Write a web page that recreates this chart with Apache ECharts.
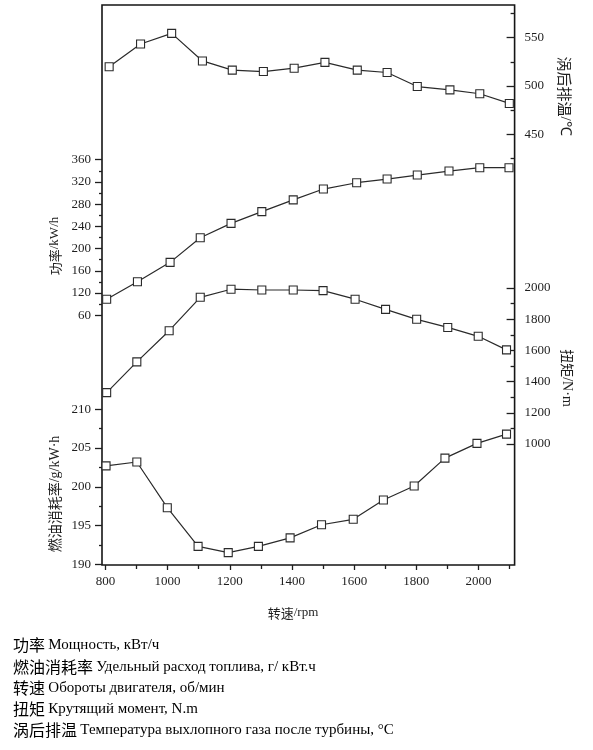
<!DOCTYPE html>
<html>
<head>
<meta charset="utf-8">
<script src="https://cdn.jsdelivr.net/npm/echarts@6/dist/echarts.min.js"></script>
<style>html,body{margin:0;padding:0;background:#fff;}#c{width:593px;height:750px;}</style>
</head>
<body>
<div id="c"></div>
<script>
// ---- data ----
const rpmTemp   = [812, 913, 1013, 1112, 1208, 1308, 1407, 1506, 1610, 1706, 1803, 1908, 2004, 2099];
const temp      = [520, 543.5, 554.5, 526, 516.5, 515, 518.5, 524.5, 516.5, 514, 499.5, 496, 492, 482];
const rpmPower  = [804, 903, 1008, 1105, 1204, 1303, 1404, 1501, 1608, 1706, 1803, 1905, 2004, 2098];
const power     = [108.7, 140.3, 175.2, 219.5, 245.4, 266.5, 287.7, 307.1, 318.5, 325.1, 332.3, 339.5, 345.5, 345.5];
const rpmTorque = [804, 901, 1005, 1105, 1204, 1303, 1404, 1500, 1603, 1701, 1801, 1901, 1999, 2090];
const torque    = [1329, 1526, 1726, 1940, 1992, 1987, 1987, 1983, 1928, 1863, 1799, 1747, 1690, 1603];
const rpmFuel   = [802, 901, 999, 1098, 1195, 1292, 1394, 1495, 1597, 1694, 1793, 1892, 1995, 2090];
const fuel      = [202.7, 203.2, 197.3, 192.3, 191.5, 192.3, 193.4, 195.1, 195.8, 198.3, 200.1, 203.7, 205.6, 206.8];

// tick labels
const xTicks = [800, 1000, 1200, 1400, 1600, 1800, 2000];
const xMinorTicks = [900, 1100, 1300, 1500, 1700, 1900, 2100];
const powerTicks = [80, 120, 160, 200, 240, 280, 320, 360];
const powerTickText = ['60', '120', '160', '200', '240', '280', '320', '360'];
const powerMinorTicks = [100, 140, 180, 220, 260, 300, 340];
const fuelTicks = [190, 195, 200, 205, 210];
const fuelMinorTicks = [192.5, 197.5, 202.5, 207.5];
const tempTicks = [450, 500, 550];
const tempMinorTicks = [425, 475, 525, 575];
const torqueTicks = [1000, 1200, 1400, 1600, 1800, 2000];
const torqueMinorTicks = [1100, 1300, 1500, 1700, 1900];

const legendLines = [
  ['功率', 'Мощность, кВт/ч'],
  ['燃油消耗率', 'Удельный расход топлива, г/ кВт.ч'],
  ['转速', 'Обороты двигателя, об/мин'],
  ['扭矩', 'Крутящий момент, N.m'],
  ['涡后排温', 'Температура выхлопного газа после турбины, °C']
];

const INK = '#1e1e1e';
const SERIF = 'Liberation Serif';
const CJK = 'Noto Sans CJK SC';

const chart = echarts.init(document.getElementById('c'), null, {renderer: 'canvas'});

function pairs(xs, ys) { return xs.map((x, i) => [x, ys[i]]); }

function yAx(opt) {
  return {
    type: 'value', min: opt.min, max: opt.max, position: opt.position,
    splitLine: {show: false}, axisLine: {show: false, onZero: false},
    axisTick: {show: true, customValues: opt.ticks, inside: !!opt.inside, length: opt.len, lineStyle: {color: INK, width: 1.3}},
    axisLabel: opt.labels ? {
      show: true, customValues: opt.labels, color: INK, fontFamily: SERIF, fontSize: 13, margin: opt.margin,
      formatter: opt.fmt || (v => String(v))
    } : {show: false}
  };
}

const yAxes = [
  yAx({min: -369.4, max: 638.3, position: 'left', ticks: powerTicks, labels: powerTicks, len: 7, margin: 11,
       fmt: v => { const i = powerTicks.indexOf(v); return i >= 0 ? powerTickText[i] : String(v); }}),
  yAx({min: -369.4, max: 638.3, position: 'left', ticks: powerMinorTicks, len: 3}),
  yAx({min: 189.9, max: 262.2, position: 'left', ticks: fuelTicks, labels: fuelTicks, len: 7, margin: 11}),
  yAx({min: 189.9, max: 262.2, position: 'left', ticks: fuelMinorTicks, len: 3}),
  yAx({min: 4.2, max: 583.9, position: 'right', ticks: tempTicks, labels: tempTicks, len: 8, inside: true, margin: 10}),
  yAx({min: 4.2, max: 583.9, position: 'right', ticks: tempMinorTicks, len: 4, inside: true}),
  yAx({min: 224, max: 3814, position: 'right', ticks: torqueTicks, labels: torqueTicks, len: 8, inside: true, margin: 10}),
  yAx({min: 224, max: 3814, position: 'right', ticks: torqueMinorTicks, len: 4, inside: true})
];

function lineSeries(name, yIdx, data) {
  return {
    name, type: 'line', xAxisIndex: 0, yAxisIndex: yIdx, data,
    symbol: 'rect', symbolSize: 8, showSymbol: true,
    lineStyle: {color: '#2a2a2a', width: 1.2},
    itemStyle: {color: '#fff', borderColor: '#2a2a2a', borderWidth: 1.1},
    emphasis: {disabled: true}, animation: false
  };
}

function nameText(x, y, rot, cn, lat, size) {
  return {type: 'text', x, y, rotation: rot, style: {
    text: '{c|' + cn + '}{l|' + lat + '}', align: 'center', verticalAlign: 'middle', fill: INK,
    rich: {c: {fontFamily: CJK, fontSize: size, fill: INK}, l: {fontFamily: SERIF, fontSize: size, fill: INK}}
  }};
}

const graphics = [
  nameText(55, 246, Math.PI / 2, '功率', '/kW/h', 13),
  nameText(55, 494, Math.PI / 2, '燃油消耗率', '/g/kW·h', 14),
  nameText(565, 96, -Math.PI / 2, '涡后排温', '/℃', 15),
  nameText(567, 378, -Math.PI / 2, '扭矩', '/N·m', 14),
  nameText(293, 613, 0, '转速', '/rpm', 13)
];
const lineY = [645, 667, 688, 709, 730];
legendLines.forEach((l, i) => {
  graphics.push({type: 'text', x: 13, y: lineY[i], style: {
    text: '{c|' + l[0] + '} {r|' + l[1] + '}',
    verticalAlign: 'middle', align: 'left', fill: '#000',
    rich: {c: {fontFamily: CJK, fontSize: 16, fill: '#000'}, r: {fontFamily: SERIF, fontSize: 15, fill: '#000'}}
  }});
});

chart.setOption({
  animation: false,
  backgroundColor: '#fff',
  grid: {left: 102, right: 78.4, top: 5, bottom: 185, show: true, borderColor: '#151515', borderWidth: 1.6, backgroundColor: 'transparent', containLabel: false},
  xAxis: [
    {type: 'value', min: 789, max: 2116, position: 'bottom', splitLine: {show: false}, axisLine: {show: false, onZero: false},
     axisTick: {show: true, customValues: xTicks, length: 5, lineStyle: {color: INK, width: 1.3}},
     axisLabel: {show: true, customValues: xTicks, color: INK, fontFamily: SERIF, fontSize: 13, margin: 10, formatter: v => String(v)}},
    {type: 'value', min: 789, max: 2116, position: 'bottom', splitLine: {show: false}, axisLine: {show: false, onZero: false},
     axisTick: {show: true, customValues: xMinorTicks, length: 4, lineStyle: {color: INK, width: 1.3}},
     axisLabel: {show: false}}
  ],
  yAxis: yAxes,
  series: [
    lineSeries('涡后排温', 4, pairs(rpmTemp, temp)),
    lineSeries('功率', 0, pairs(rpmPower, power)),
    lineSeries('扭矩', 6, pairs(rpmTorque, torque)),
    lineSeries('燃油消耗率', 2, pairs(rpmFuel, fuel))
  ],
  graphic: graphics
});
</script>
</body>
</html>
